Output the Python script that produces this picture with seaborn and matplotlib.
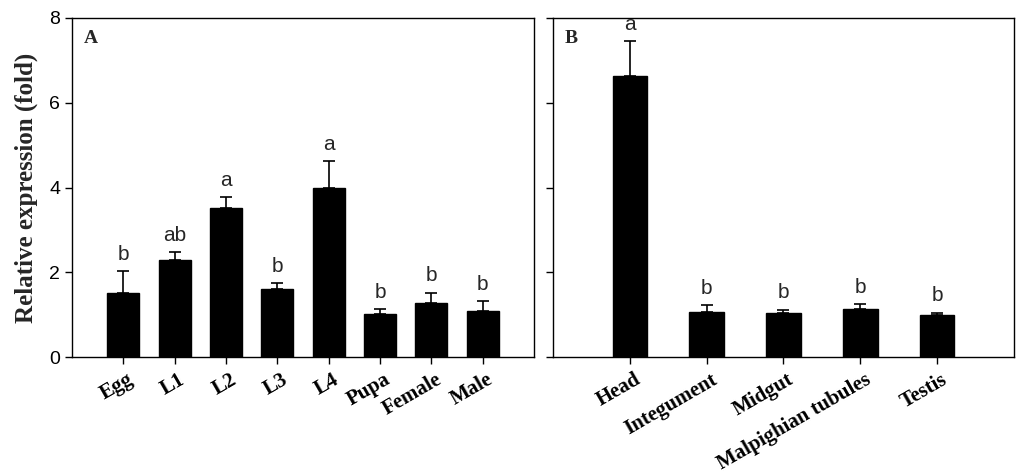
import numpy as np
import matplotlib.pyplot as plt
import matplotlib.transforms as mtransforms
import pandas as pd
import seaborn as sns

# panel A - developmental stages
stages = ['Egg', 'L1', 'L2', 'L3', 'L4', 'Pupa', 'Female', 'Male']
stage_mean = [1.51, 2.29, 3.52, 1.61, 3.98, 1.02, 1.27, 1.08]
stage_err = [0.52, 0.19, 0.26, 0.14, 0.65, 0.12, 0.25, 0.24]
stage_sig = ['b', 'ab', 'a', 'b', 'a', 'b', 'b', 'b']

# panel B - tissues
tissues = ['Head', 'Integument', 'Midgut', 'Malpighian tubules', 'Testis']
tissue_mean = [6.63, 1.07, 1.04, 1.13, 1.00]
tissue_err = [0.83, 0.16, 0.08, 0.12, 0.05]
tissue_sig = ['a', 'b', 'b', 'b', 'b']

sns.set_style('ticks')
plt.rcParams['font.family'] = ['Liberation Sans', 'DejaVu Sans']

fig = plt.figure(figsize=(10.24, 4.72), dpi=100)
axA = fig.add_axes([0.0703, 0.2436, 0.4512, 0.7183])
axB = fig.add_axes([0.540, 0.2436, 0.4502, 0.7183])

serif = ['Liberation Serif', 'DejaVu Serif']
shift = mtransforms.ScaledTranslation(4 / 100, 0, fig.dpi_scale_trans)


def panel(ax, cats, mean, err, sig, width, tag):
    df = pd.DataFrame({'cat': cats, 'val': mean})
    sns.barplot(data=df, x='cat', y='val', color='black', width=width,
                errorbar=None, edgecolor='black', ax=ax)
    for p in ax.patches:
        p.set_facecolor('black')
    x = np.arange(len(cats))
    ax.errorbar(x, mean, yerr=[np.zeros(len(err)), err], fmt='none',
                ecolor='black', elinewidth=1.2, capsize=4, capthick=1.2)
    for xi, m, e, s in zip(x, mean, err, sig):
        ax.text(xi, m + e + 0.17, s, ha='center', va='bottom', fontsize=15)
    ax.set_xlim(-1, len(cats))
    ax.set_ylim(0, 8)
    ax.set_yticks([0, 2, 4, 6, 8])
    ax.set_xlabel('')
    ax.set_ylabel('')
    for sp in ax.spines.values():
        sp.set_visible(True)
        sp.set_linewidth(1.0)
        sp.set_color('black')
    ax.tick_params(direction='out', length=5, width=1, colors='black',
                   labelsize=14)
    ax.tick_params(axis='x', pad=4)
    ax.set_xticks(x)
    ax.set_xticklabels(cats, rotation=30, ha='right', rotation_mode='anchor',
                       family=serif, fontweight='bold', fontsize=15)
    for lab in ax.get_xticklabels():
        lab.set_transform(lab.get_transform() + shift)
    ax.text(0.025, 0.965, tag, transform=ax.transAxes, ha='left', va='top',
            family=serif, fontweight='bold', fontsize=14)


panel(axA, stages, stage_mean, stage_err, stage_sig, 0.62, 'A')
panel(axB, tissues, tissue_mean, tissue_err, tissue_sig, 0.45, 'B')
axB.set_yticklabels([])
axA.set_ylabel('Relative expression (fold)', family=serif, fontweight='bold',
               fontsize=18, labelpad=8)

fig.savefig('out.png', dpi=100)
